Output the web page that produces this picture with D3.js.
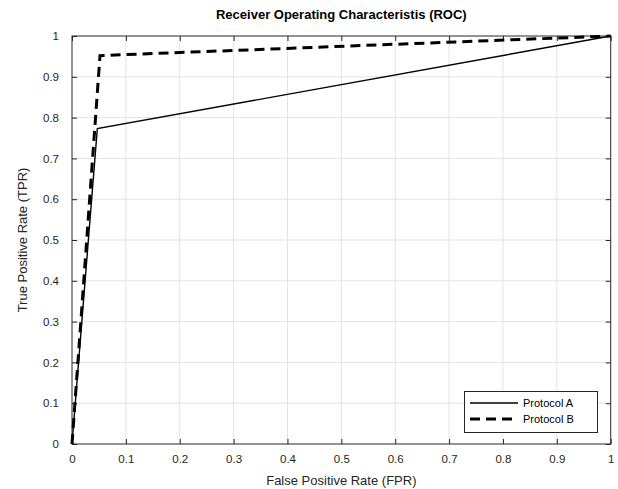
<!DOCTYPE html>
<html>
<head>
<meta charset="utf-8">
<script src="https://cdn.jsdelivr.net/npm/d3@7"></script>
<style>
  body { margin: 0; background: #fff; }
  text { font-family: "Liberation Sans", Arial, sans-serif; }
</style>
</head>
<body>
<svg id="chart" width="618" height="489"></svg>
<script>
// ROC curves
var fprA = [0, 0.047, 1];
var tprA = [0, 0.773, 1];
var fprB = [0, 0.052, 1];
var tprB = [0, 0.952, 1];
var ticks = [0, 0.1, 0.2, 0.3, 0.4, 0.5, 0.6, 0.7, 0.8, 0.9, 1];
var seriesNames = ["Protocol A", "Protocol B"];

var svg = d3.select("#chart");
var plotL = 72, plotR = 610.7, plotT = 36, plotB = 444;

var x = d3.scaleLinear().domain([0, 1]).range([plotL, plotR]);
var y = d3.scaleLinear().domain([0, 1]).range([plotB, plotT]);

var fmt = function(d) { return d3.format("~g")(d); };

// grid
svg.append("g").selectAll("line").data(ticks.slice(1, -1)).enter().append("line")
    .attr("x1", d => x(d)).attr("x2", d => x(d))
    .attr("y1", plotT).attr("y2", plotB)
    .attr("stroke", "#e3e3e3").attr("stroke-width", 1);
svg.append("g").selectAll("line").data(ticks.slice(1, -1)).enter().append("line")
    .attr("y1", d => y(d)).attr("y2", d => y(d))
    .attr("x1", plotL).attr("x2", plotR)
    .attr("stroke", "#e3e3e3").attr("stroke-width", 1);

// axes (ticks inward on all four sides)
var axisColor = "#262626";
function styleAxis(g) {
  g.select(".domain").remove();
  g.selectAll(".tick line").attr("stroke", axisColor);
  g.selectAll(".tick text").attr("fill", "#262626").style("font-size", "11.5px")
    .style("font-family", "'Liberation Sans', Arial, sans-serif");
}
svg.append("g").attr("transform", "translate(0," + plotB + ")")
    .call(d3.axisBottom(x).tickValues(ticks).tickFormat(fmt).tickSizeInner(-5).tickPadding(11))
    .call(styleAxis);
svg.append("g").attr("transform", "translate(" + plotL + ",0)")
    .call(d3.axisLeft(y).tickValues(ticks).tickFormat(fmt).tickSizeInner(-5).tickPadding(13))
    .call(styleAxis);
svg.append("g").attr("transform", "translate(0," + plotT + ")")
    .call(d3.axisTop(x).tickValues(ticks).tickFormat("").tickSizeInner(-5))
    .call(styleAxis);
svg.append("g").attr("transform", "translate(" + plotR + ",0)")
    .call(d3.axisRight(y).tickValues(ticks).tickFormat("").tickSizeInner(-5))
    .call(styleAxis);

svg.append("rect")
    .attr("x", plotL).attr("y", plotT)
    .attr("width", plotR - plotL).attr("height", plotB - plotT)
    .attr("fill", "none").attr("stroke", axisColor).attr("stroke-width", 1);

// curves
var line = d3.line().x(d => x(d[0])).y(d => y(d[1]));
svg.append("path")
    .datum(d3.zip(fprA, tprA))
    .attr("d", line)
    .attr("fill", "none").attr("stroke", "#000").attr("stroke-width", 1.4);
svg.append("path")
    .datum(d3.zip(fprB, tprB))
    .attr("d", line)
    .attr("fill", "none").attr("stroke", "#000").attr("stroke-width", 3)
    .attr("stroke-dasharray", "10,6");

// title and labels
svg.append("text")
    .attr("x", (plotL + plotR) / 2).attr("y", 18.5)
    .attr("text-anchor", "middle")
    .style("font-size", "13px").style("font-weight", "bold")
    .text("Receiver Operating Characteristis (ROC)");
svg.append("text")
    .attr("x", (plotL + plotR) / 2).attr("y", 485)
    .attr("text-anchor", "middle")
    .style("font-size", "13px").attr("fill", "#262626")
    .text("False Positive Rate (FPR)");
svg.append("text")
    .attr("transform", "translate(26.5," + ((plotT + plotB) / 2) + ") rotate(-90)")
    .attr("text-anchor", "middle")
    .style("font-size", "13px").attr("fill", "#262626")
    .text("True Positive Rate (TPR)");

// legend
var lg = svg.append("g");
lg.append("rect")
    .attr("x", 464.5).attr("y", 391.5).attr("width", 133).attr("height", 41)
    .attr("fill", "#fff").attr("stroke", "#262626").attr("stroke-width", 1);
var legendStyles = [{w: 1.4, dash: null}, {w: 3, dash: "10,6"}];
seriesNames.forEach(function(name, i) {
  var ly = 403 + i * 16;
  var l = lg.append("line")
      .attr("x1", 470).attr("x2", 518).attr("y1", ly).attr("y2", ly)
      .attr("stroke", "#000").attr("stroke-width", legendStyles[i].w);
  if (legendStyles[i].dash) l.attr("stroke-dasharray", legendStyles[i].dash);
  lg.append("text")
      .attr("x", 523).attr("y", ly + 4)
      .style("font-size", "11px").attr("fill", "#000")
      .text(name);
});
</script>
</body>
</html>
